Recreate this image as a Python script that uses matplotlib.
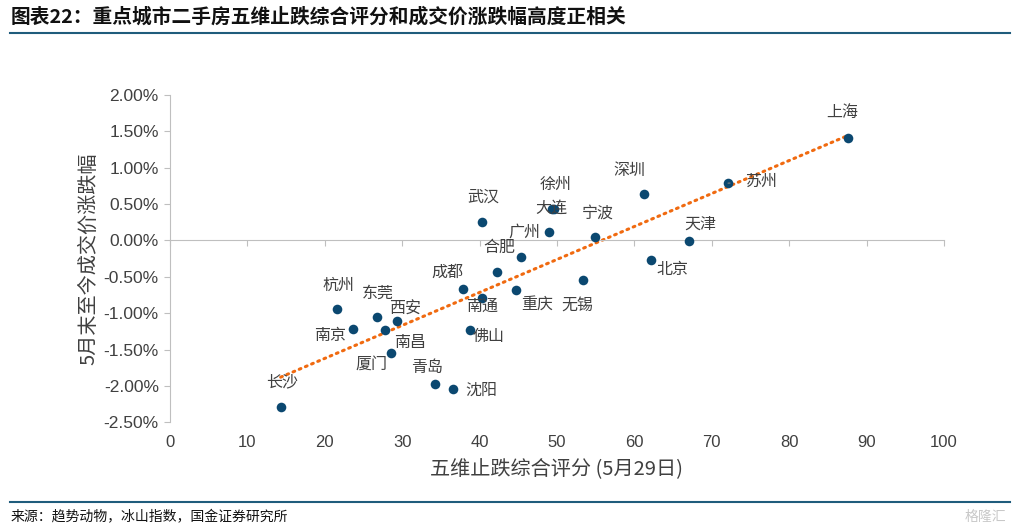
import numpy as np
import matplotlib
matplotlib.use('Agg')
import matplotlib.pyplot as plt
from matplotlib.ticker import FuncFormatter, MultipleLocator
from matplotlib.lines import Line2D

plt.rcParams['font.family'] = ['Noto Sans CJK SC', 'DejaVu Sans']

# data: score vs price change (%)
cities = ['上海', '苏州', '深圳', '徐州', '大连', '武汉', '广州', '宁波', '天津', '北京',
          '合肥', '', '成都', '南通', '重庆', '无锡', '杭州', '东莞', '西安', '南京',
          '南昌', '厦门', '佛山', '青岛', '沈阳', '长沙']
score = [87.6, 72.1, 61.2, 49.6, 49.4, 40.3, 49.0, 54.9, 67.1, 62.1,
         45.3, 42.3, 37.8, 40.3, 44.7, 53.3, 21.6, 26.7, 29.3, 23.7,
         27.8, 28.5, 38.7, 34.3, 36.6, 14.3]
change = [1.415, 0.788, 0.637, 0.435, 0.428, 0.253, 0.120, 0.051, -0.008, -0.269,
          -0.228, -0.440, -0.668, -0.791, -0.681, -0.540, -0.942, -1.052, -1.103, -1.217,
          -1.227, -1.547, -1.227, -1.973, -2.041, -2.284]
xticks = list(range(0, 101, 10))

# label offsets in points (dx, dy)
offs = [(-4, 18), (24, 1), (-10, 17), (1, 18), (-1, 1), (1, 18), (-18, 0), (2, 17), (8, 12), (16, -7),
        (-15, 7), (0, 0), (-11, 12), (0, -6), (15, -10), (-4, -18), (1, 17), (1, 17), (6, 8), (-17, -5),
        (18, -9), (-14, -8), (14, -5), (-6, 12), (20, -1), (1, 18)]

navy = '#0B4870'
orange = '#F06A10'
grey = '#404040'

fig = plt.figure(figsize=(10.16, 5.29), dpi=100)
ax = fig.add_axes([0.1673, 0.2017, 0.7618, 0.6187])

ax.scatter(score, change, s=48, color=navy, zorder=3, linewidths=0)

# linear trend line
k, b = np.polyfit(score, change, 1)
xs = np.array([min(score), max(score)])
ax.plot(xs, k * xs + b, color=orange, lw=2.2, ls=(0, (0.6, 1.6)),
        dash_capstyle='round', zorder=2)

for name, x, y, (dx, dy) in zip(cities, score, change, offs):
    if not name:
        continue
    if name == '苏州':
        ax.annotate(name, (x, y), xytext=(dx, dy), textcoords='offset points',
                    ha='center', va='center', fontsize=11.5, color=grey,
                    arrowprops=dict(arrowstyle='-', color='#808080', lw=0.8,
                                    shrinkA=9, shrinkB=4))
    else:
        ax.annotate(name, (x, y), xytext=(dx, dy), textcoords='offset points',
                    ha='center', va='center', fontsize=11.5, color=grey)

ax.set_xlim(0, 100)
ax.set_ylim(-2.5, 2.0)
ax.yaxis.set_major_locator(MultipleLocator(0.5))
ax.yaxis.set_major_formatter(FuncFormatter(lambda v, p: '%.2f%%' % v))
ax.set_xticks(xticks)

for s in ['top', 'right']:
    ax.spines[s].set_visible(False)
ax.spines['left'].set_color('#BFBFBF')
ax.spines['bottom'].set_color('#BFBFBF')
ax.spines['bottom'].set_position(('data', 0))
ax.tick_params(axis='x', direction='out', length=4, color='#BFBFBF', labelbottom=False)
ax.tick_params(axis='y', direction='out', length=4, color='#BFBFBF',
               labelsize=12.5, labelcolor=grey, pad=4)
for t in ax.get_yticklabels():
    t.set_family(['Liberation Sans', 'DejaVu Sans'])

sec = ax.secondary_xaxis('bottom')
sec.set_xticks(xticks)
sec.spines['bottom'].set_visible(False)
sec.tick_params(length=0, labelsize=12, labelcolor=grey, pad=9)
for t in sec.get_xticklabels():
    t.set_family(['Liberation Sans Narrow', 'Liberation Sans', 'DejaVu Sans'])
sec.set_xlabel('五维止跌综合评分 (5月29日)', fontsize=14.5, color=grey, labelpad=7)

ax.set_ylabel('5月末至今成交价涨跌幅', fontsize=14.5, color=grey, labelpad=3)

# header and footer
fig.text(0.010, 0.968, '图表22：重点城市二手房五维止跌综合评分和成交价涨跌幅高度正相关',
         fontsize=14.2, fontweight='bold', color='#111111', va='center', style='italic')
fig.add_artist(Line2D([0.010, 0.994], [0.938, 0.938], color='#1F5C7C', lw=1.5))
fig.add_artist(Line2D([0.010, 0.994], [0.051, 0.051], color='#1F5C7C', lw=1.5))
fig.text(0.010, 0.022, '来源：趋势动物，冰山指数，国金证券研究所', fontsize=10,
         color='#111111', va='center')
fig.text(0.990, 0.022, '格隆汇', fontsize=10, color='#C8C8C8', va='center', ha='right')

fig.savefig('out.png', dpi=100)
